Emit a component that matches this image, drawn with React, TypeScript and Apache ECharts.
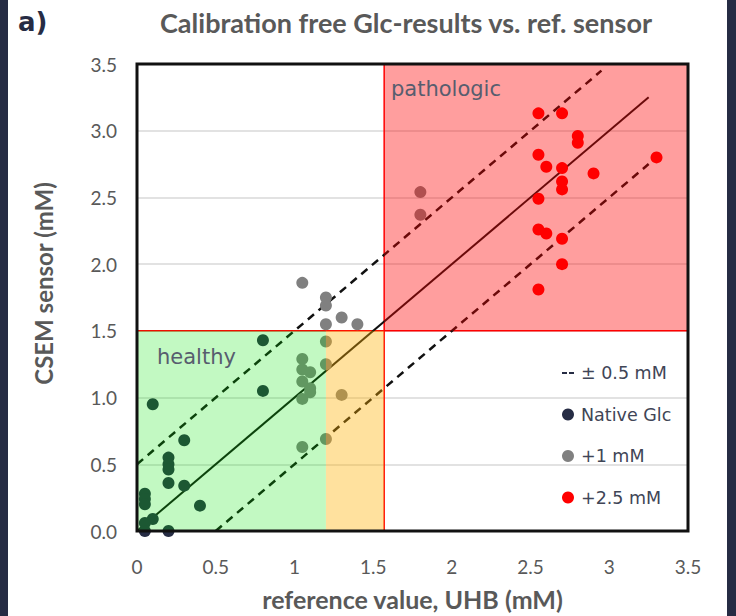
import React, { useEffect, useRef } from "react";
import * as echarts from "echarts";

// ---- data ----
const nativeGlc: number[][] = [
  [0.8, 1.43], [0.8, 1.05], [0.1, 0.95], [0.3, 0.68], [0.2, 0.55], [0.2, 0.5],
  [0.2, 0.46], [0.2, 0.36], [0.3, 0.34], [0.4, 0.19], [0.05, 0.28], [0.05, 0.24],
  [0.05, 0.2], [0.1, 0.09], [0.05, 0.06], [0.05, 0.0], [0.2, 0.0],
];
const plus1mM: number[][] = [
  [1.05, 1.86], [1.2, 1.75], [1.2, 1.69], [1.3, 1.6], [1.4, 1.55], [1.2, 1.55],
  [1.2, 1.42], [1.05, 1.29], [1.2, 1.25], [1.05, 1.21], [1.1, 1.19], [1.05, 1.12],
  [1.1, 1.07], [1.1, 1.04], [1.05, 0.99], [1.3, 1.02], [1.2, 0.69], [1.05, 0.63],
  [1.8, 2.54], [1.8, 2.37],
];
const plus25mM: number[][] = [
  [2.55, 3.13], [2.7, 3.13], [2.8, 2.96], [2.8, 2.91], [2.55, 2.82], [2.6, 2.73],
  [2.7, 2.72], [2.7, 2.62], [2.7, 2.56], [2.9, 2.68], [3.3, 2.8], [2.55, 2.49],
  [2.55, 2.26], [2.6, 2.23], [2.7, 2.19], [2.7, 2.0], [2.55, 1.81],
];
const identityLine: number[][] = [[0, 0], [3.25, 3.25]];
const upperLimit: number[][] = [[0, 0.5], [2.95, 3.45]];
const lowerLimit: number[][] = [[0.5, 0], [3.25, 2.75]];
const limitHorizontal: number[][] = [[0, 1.5], [3.5, 1.5]];
const limitVertical: number[][] = [[1.57, 0], [1.57, 3.5]];
const zoneNames = ["healthy", "borderline", "pathologic"];
const zoneX0 = [0, 1.2, 1.57];
const zoneX1 = [1.2, 1.57, 3.5];
const zoneY0 = [0, 0, 1.5];
const zoneY1 = [1.5, 1.5, 3.5];
const axisMin = 0;
const axisMax = 3.5;
const axisStep = 0.5;

const legendNames = ["± 0.5 mM", "Native Glc", "+1 mM", "+2.5 mM"];

export default function App() {
  const ref = useRef<HTMLDivElement>(null);
  useEffect(() => {
    document.body.style.margin = "0";
    if (!ref.current) return;
    const chart = echarts.init(ref.current, undefined, { renderer: "svg" });
    const zoneColors = ["rgba(0,230,0,0.24)", "rgba(255,175,0,0.38)", "rgba(255,0,0,0.38)"];
    const zoneData = zoneNames.map((n, i) => [zoneX0[i], zoneY0[i], zoneX1[i], zoneY1[i]]);
    const labelFont = "DejaVu Sans";
    const axisFont = "Lato";

    const rectItem = (api: any) => {
      const p0 = api.coord([api.value(0), api.value(1)]);
      const p1 = api.coord([api.value(2), api.value(3)]);
      return { x: p0[0], y: p1[1], width: p1[0] - p0[0], height: p0[1] - p1[1] };
    };

    chart.setOption({
      animation: false,
      backgroundColor: "#ffffff",
      title: {
        text: "Calibration free Glc-results vs. ref. sensor",
        left: 155,
        top: 4,
        textStyle: { fontFamily: axisFont, fontWeight: "bold", fontSize: 27, color: "#595959" },
      },
      grid: { left: 137, right: 48, top: 64, bottom: 85, show: false },
      xAxis: {
        type: "value",
        min: axisMin,
        max: axisMax,
        interval: axisStep,
        name: "reference value, UHB (mM)",
        nameLocation: "middle",
        nameGap: 55,
        nameTextStyle: { fontFamily: axisFont, fontWeight: "bold", fontSize: 25, color: "#595959" },
        axisLine: { show: false },
        axisTick: { show: false },
        splitLine: { show: false },
        axisLabel: {
          margin: 26,
          fontFamily: axisFont,
          fontSize: 19,
          color: "#595959",
          formatter: (v: number) => String(v),
        },
      },
      yAxis: {
        type: "value",
        min: axisMin,
        max: axisMax,
        interval: axisStep,
        name: "CSEM sensor (mM)",
        nameLocation: "middle",
        nameGap: 82,
        nameRotate: 90,
        nameTextStyle: {
          fontFamily: axisFont,
          fontWeight: "bold",
          fontSize: 24,
          color: "#595959",
          padding: [0, 0, 0, 28],
        },
        axisLine: { show: false },
        axisTick: { show: false },
        splitLine: { show: true, lineStyle: { color: "#d9d9d9", width: 1.5 } },
        axisLabel: {
          margin: 20,
          fontFamily: axisFont,
          fontSize: 19,
          color: "#595959",
          formatter: (v: number) => v.toFixed(1),
        },
      },
      legend: {
        orient: "vertical",
        left: 557,
        top: 358,
        itemWidth: 12,
        itemHeight: 12,
        itemGap: 21.5,
        selectedMode: false,
        textStyle: {
          fontFamily: labelFont,
          fontSize: 17.5,
          color: "#404556",
          lineHeight: 20,
          padding: [0, 0, 0, 2],
        },
        data: [
          {
            name: legendNames[0],
            icon: "path://M0,0h5v2h-5zM7,0h5v2h-5z",
            itemStyle: { color: "#262c44", borderWidth: 0 },
            lineStyle: { width: 0 },
          },
          { name: legendNames[1], icon: "circle" },
          { name: legendNames[2], icon: "circle" },
          { name: legendNames[3], icon: "circle" },
        ],
      },
      graphic: [
        { type: "rect", left: 0, top: 0, shape: { width: 8, height: 616 }, style: { fill: "#262c44" } },
        { type: "rect", left: 727, top: 0, shape: { width: 9, height: 616 }, style: { fill: "#262c44" } },
        {
          type: "text",
          left: 18,
          top: 9,
          style: { text: "a)", font: "bold 26px 'DejaVu Sans'", fill: "#262c44" },
        },
        {
          type: "text",
          left: 157,
          top: 346,
          z: 20,
          style: { text: "healthy", font: "21px 'DejaVu Sans'", fill: "#575d6e" },
        },
        {
          type: "text",
          left: 391,
          top: 78,
          z: 20,
          style: { text: "pathologic", font: "21px 'DejaVu Sans'", fill: "#575d6e" },
        },
      ],
      series: [
        {
          type: "line",
          name: "limitH",
          data: limitHorizontal,
          symbol: "none",
          silent: true,
          z: 1,
          lineStyle: { color: "#ff0000", width: 1.5 },
        },
        {
          type: "line",
          name: "limitV",
          data: limitVertical,
          symbol: "none",
          silent: true,
          z: 1,
          lineStyle: { color: "#ff0000", width: 1.5 },
        },
        {
          type: "line",
          name: "identity",
          data: identityLine,
          symbol: "none",
          silent: true,
          z: 2,
          lineStyle: { color: "#111111", width: 2 },
        },
        {
          type: "line",
          name: legendNames[0],
          data: upperLimit,
          symbol: "none",
          silent: true,
          z: 2,
          itemStyle: { color: "#262c44" },
          lineStyle: { color: "#111111", width: 2.5, type: [8, 6] },
        },
        {
          type: "line",
          name: legendNames[0],
          data: lowerLimit,
          symbol: "none",
          silent: true,
          z: 2,
          itemStyle: { color: "#262c44" },
          lineStyle: { color: "#111111", width: 2.5, type: [8, 6] },
        },
        {
          type: "scatter",
          name: legendNames[1],
          data: nativeGlc,
          symbolSize: 12,
          z: 3,
          itemStyle: { color: "#262c44", opacity: 1 },
        },
        {
          type: "scatter",
          name: legendNames[2],
          data: plus1mM,
          symbolSize: 12,
          z: 3,
          itemStyle: { color: "#808080", opacity: 1 },
        },
        {
          type: "scatter",
          name: legendNames[3],
          data: plus25mM,
          symbolSize: 12,
          z: 3,
          itemStyle: { color: "#ff0000", opacity: 1 },
        },
        {
          type: "custom",
          name: "zones",
          data: zoneData,
          silent: true,
          clip: false,
          z: 10,
          encode: { x: [0, 2], y: [1, 3] },
          renderItem: (params: any, api: any) => ({
            type: "rect",
            shape: rectItem(api),
            style: { fill: zoneColors[params.dataIndex] },
          }),
        },
        {
          type: "custom",
          name: "frame",
          data: [[axisMin, axisMin, axisMax, axisMax]],
          silent: true,
          clip: false,
          z: 12,
          encode: { x: [0, 2], y: [1, 3] },
          renderItem: (params: any, api: any) => ({
            type: "rect",
            shape: rectItem(api),
            style: { fill: "none", stroke: "#111111", lineWidth: 3 },
          }),
        },
      ],
    });
    return () => chart.dispose();
  }, []);
  return <div ref={ref} style={{ width: 736, height: 616 }} />;
}
